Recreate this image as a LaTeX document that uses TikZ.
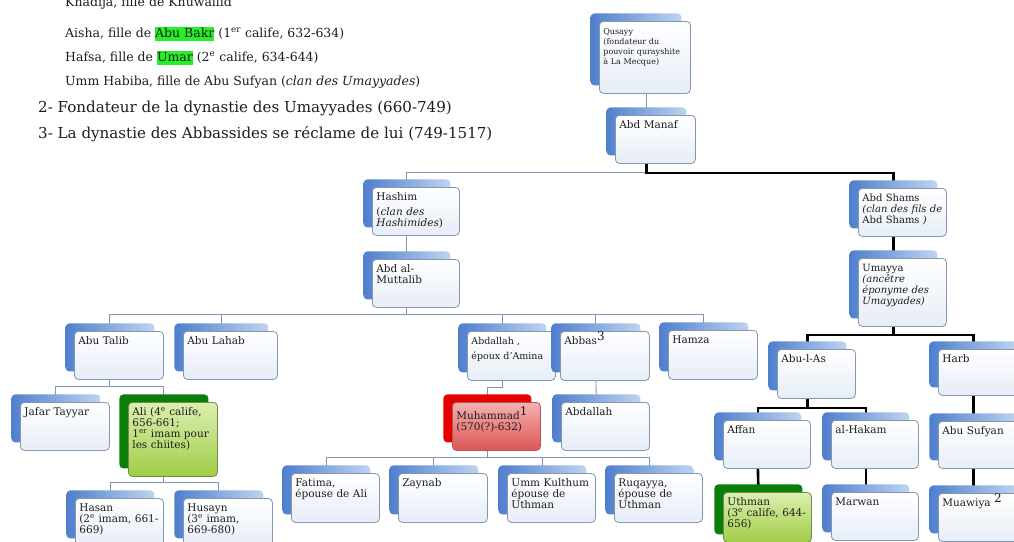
\documentclass[tikz,border=0pt]{standalone}
\usepackage{fontspec}
\setmainfont{DejaVu Serif}
\usepackage{xcolor}
\usetikzlibrary{positioning, shadows, backgrounds}

\definecolor{boxline}{RGB}{133,151,176}
\definecolor{frontlow}{RGB}{230,237,247}
\definecolor{backdark}{RGB}{79,127,205}
\definecolor{backlight}{RGB}{190,212,240}
\definecolor{kincol}{RGB}{128,150,178}
\definecolor{boxtext}{RGB}{30,30,30}
\definecolor{hlgreen}{RGB}{40,238,40}
\definecolor{califdark}{RGB}{10,125,10}
\definecolor{califtop}{RGB}{220,239,176}
\definecolor{califlow}{RGB}{160,205,70}
\definecolor{califline}{RGB}{110,140,80}
\definecolor{prophdark}{RGB}{230,0,0}
\definecolor{prophtop}{RGB}{245,176,176}
\definecolor{prophlow}{RGB}{220,85,85}
\definecolor{prophline}{RGB}{175,90,90}

\newcommand{\upn}[1]{\raisebox{0.4em}{\fontsize{12}{12}\selectfont #1}}
\newcommand{\hl}[1]{{\fboxsep=0pt\colorbox{hlgreen}{\strut #1}}}

\begin{document}
\begin{tikzpicture}[x=1pt, y=-1pt,
        famcard/.style={rounded corners=4pt, anchor=north west, line width=0.8pt,
            inner xsep=4pt, inner ysep=5pt, text width=80pt, text height=8pt, text depth=30pt,
            align=left, text=boxtext, font=\fontsize{10.5}{11}\selectfont},
        person/.style={famcard, draw=boxline, top color=white, bottom color=frontlow,
            general shadow={shadow xshift=-9pt, shadow yshift=8pt,
                left color=backdark, right color=backlight}},
        caliph/.style={famcard, draw=califline, top color=califtop, bottom color=califlow,
            general shadow={shadow xshift=-9pt, shadow yshift=8pt, fill=califdark}},
        prophet/.style={famcard, draw=prophline, top color=prophtop, bottom color=prophlow,
            general shadow={shadow xshift=-9pt, shadow yshift=8pt, fill=prophdark}},
        kin/.style={draw=kincol, line width=0.9pt},
        umayyad/.style={draw=black, line width=2.6pt},
        note/.style={anchor=base west, inner sep=0pt, text=boxtext, font=\fontsize{12.5}{14}\selectfont},
        headline/.style={anchor=base west, inner sep=0pt, text=boxtext, font=\fontsize{15.1}{18}\selectfont}]

        \useasboundingbox (0,0) rectangle (1014,541);
        \begin{scope}[on background layer]
            \fill[white] (0,0) rectangle (1014,541);
        \end{scope}

        % notes at the top left
        \node[note] (khadija) at (65,6) {Khadija, fille de Khuwailid};
        \node[note] (aisha) at (65,37) {Aisha, fille de \hl{Abu Bakr} (1\textsuperscript{er} calife, 632-634)};
        \node[note] (hafsa) at (65,61) {Hafsa, fille de \hl{Umar} (2\textsuperscript{e} calife, 634-644)};
        \node[note] (ummhabiba) at (65,85) {Umm Habiba, fille de Abu Sufyan (\textit{clan des Umayyades})};
        \node[headline] (fondateur) at (38,112) {2- Fondateur de la dynastie des Umayyades (660-749)};
        \node[headline] (abbassides) at (38,138) {3- La dynastie des Abbassides se réclame de lui (749-1517)};

        % the tree
        \node[person, text width=83pt, text depth=54pt, font=\fontsize{8}{10}\selectfont] (qusayy) at (599,21) {Qusayy\\(fondateur du\\pouvoir qurayshite\\à La Mecque)};
        \node[person, text width=72pt] (abdmanaf) at (615,115) {Abd Manaf};

        \node[person, text width=79pt] (hashim) at (372,187) {Hashim\\[4pt](\textit{clan des}\\\textit{Hashimides})};
        \node[person, text width=79pt] (abdmuttalib) at (372,259) {Abd al-\\Muttalib};
        \node[person, font=\fontsize{10}{11}\selectfont] (abdshams) at (858,188) {Abd Shams\\\textit{(clan des fils de}\\Abd Shams \textit{)}};
        \node[person, text depth=50pt, font=\fontsize{10}{11}\selectfont] (umayya) at (858,258) {Umayya\\\textit{(ancêtre}\\\textit{éponyme des}\\\textit{Umayyades)}};

        \node[person, text width=81pt] (abutalib) at (74,331) {Abu Talib};
        \node[person, text width=86pt] (abulahab) at (183,331) {Abu Lahab};
        \node[person, text depth=31pt, font=\fontsize{9.5}{11}\selectfont] (abdallah) at (467,331) {Abdallah ,\\[4pt]époux d'Amina};
        \node[person, text width=81pt, text depth=31pt] (abbas) at (560,331) {Abbas\upn{3}};
        \node[person, text width=81pt, text depth=31pt] (hamza) at (668,330) {Hamza};
        \node[person, text width=70pt, text depth=31pt] (abulas) at (777,349) {Abu-l-As};
        \node[person, text depth=28pt] (harb) at (938,349) {Harb};

        \node[person, text width=81pt] (jafar) at (20,402) {Jafar Tayyar};
        \node[caliph, text width=81pt, text depth=56pt] (ali) at (128,402) {Ali (4\textsuperscript{e} calife,\\656-661;\\1\textsuperscript{er} imam pour\\les chiites)};
        \node[prophet, text height=12pt, text depth=26pt] (muhammad) at (452,402) {Muhammad\upn{1}\\(570(?)-632)};
        \node[person] (abdallahb) at (561,402) {Abdallah};
        \node[person, text width=79pt] (affan) at (723,420) {Affan};
        \node[person, text width=79pt] (alhakam) at (831,420) {al-Hakam};
        \node[person, text depth=29pt] (abusufyan) at (938,421) {Abu Sufyan};

        \node[person] (hasan) at (75,498) {Hasan\\(2\textsuperscript{e} imam, 661-\\669)};
        \node[person, text width=81pt] (husayn) at (183,498) {Husayn\\(3\textsuperscript{e} imam,\\669-680)};
        \node[person, text depth=31pt] (fatima) at (291,473) {Fatima,\\épouse de Ali};
        \node[person, text width=81pt, text depth=31pt] (zaynab) at (398,473) {Zaynab};
        \node[person, text depth=31pt] (ummkulthum) at (507,473) {Umm Kulthum\\épouse de\\Uthman};
        \node[person, text depth=31pt] (ruqayya) at (614,473) {Ruqayya,\\épouse de\\Uthman};
        \node[caliph, text depth=32pt] (uthman) at (723,492) {Uthman\\(3\textsuperscript{e} calife, 644-\\656)};
        \node[person, text width=79pt] (marwan) at (831,492) {Marwan};
        \node[person] (muawiya) at (938,493) {Muawiya \upn{2}};

        \begin{scope}[on background layer]
            % Hashimites
            \draw[kin] ([xshift=-9pt]abdmanaf.north) -- ([xshift=-9pt]abdmanaf.north |- qusayy.south);
            \draw[kin] ([xshift=-9pt]abdmanaf.south) -- ++(0,9) -| ([xshift=-9pt]hashim.north);
            \draw[kin] ([xshift=-9pt]hashim.south) -- ([xshift=-9pt]abdmuttalib.north);

            \draw[kin] ([xshift=-9pt]abdmuttalib.south) -- ++(0,7) -| ([xshift=-9pt]abutalib.north);
            \draw[kin] ([xshift=-9pt]abdmuttalib.south) -- ++(0,7) -| ([xshift=-9pt]abulahab.north);
            \draw[kin] ([xshift=-9pt]abdmuttalib.south) -- ++(0,7) -| ([xshift=-9pt]abdallah.north);
            \draw[kin] ([xshift=-9pt]abdmuttalib.south) -- ++(0,7) -| ([xshift=-9pt]abbas.north);
            \draw[kin] ([xshift=-9pt]abdmuttalib.south) -- ++(0,7) -| ([xshift=-9pt]hamza.north);

            \draw[kin] ([xshift=-9pt]abutalib.south) -- ++(0,7) -| ([xshift=-9pt]jafar.north);
            \draw[kin] ([xshift=-9pt]abutalib.south) -- ++(0,7) -| ([xshift=-9pt]ali.north);
            \draw[kin] ([xshift=-9pt]ali.south) -- ++(0,6) -| ([xshift=-9pt]hasan.north);
            \draw[kin] ([xshift=-9pt]ali.south) -- ++(0,6) -| ([xshift=-9pt]husayn.north);

            \draw[kin] ([xshift=-9pt]abdallah.south) -- ++(0,7) -| ([xshift=-9pt]muhammad.north);
            \draw[kin] ([xshift=-9pt]abbas.south) -- ([xshift=-9pt]abdallahb.north);

            \draw[kin] ([xshift=-9pt]muhammad.south) -- ++(0,7) -| ([xshift=-9pt]fatima.north);
            \draw[kin] ([xshift=-9pt]muhammad.south) -- ++(0,7) -| ([xshift=-9pt]zaynab.north);
            \draw[kin] ([xshift=-9pt]muhammad.south) -- ++(0,7) -| ([xshift=-9pt]ummkulthum.north);
            \draw[kin] ([xshift=-9pt]muhammad.south) -- ++(0,7) -| ([xshift=-9pt]ruqayya.north);

            % Umayyads
            \draw[umayyad] ([xshift=-9pt]abdmanaf.south) -- ++(0,9) -| ([xshift=-9pt]abdshams.north);
            \draw[umayyad] ([xshift=-9pt]abdshams.south) -- ([xshift=-9pt]umayya.north);
            \draw[umayyad] ([xshift=-9pt]umayya.south) -- ++(0,8) -| ([xshift=-9pt]abulas.north);
            \draw[umayyad] ([xshift=-9pt]umayya.south) -- ++(0,8) -| ([xshift=-9pt]harb.north);
            \draw[umayyad] ([xshift=-9pt]abulas.south) -- ++(0,9) -| ([xshift=-9pt]affan.north);
            \draw[umayyad] ([xshift=-9pt]abulas.south) -- ++(0,9) -| ([xshift=-9pt]alhakam.north);
            \draw[umayyad] ([xshift=-9pt]harb.south) -- ([xshift=-9pt]abusufyan.north);
            \draw[umayyad] ([xshift=-9pt]abusufyan.south) -- ([xshift=-9pt]muawiya.north);
            \draw[umayyad] ([xshift=-9pt]affan.south) -- ([xshift=-9pt]uthman.north);
            \draw[umayyad] ([xshift=-9pt]alhakam.south) -- ([xshift=-9pt]marwan.north);
        \end{scope}
    \end{tikzpicture}
\end{document}
